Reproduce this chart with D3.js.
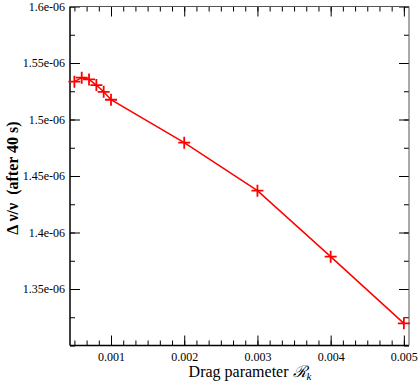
<!DOCTYPE html>
<html>
<head>
<meta charset="utf-8">
<script src="https://cdn.jsdelivr.net/npm/d3@7"></script>
<style>
  body { margin: 0; background: #fff; }
  svg { display: block; font-family: "Liberation Serif", "DejaVu Serif", serif; }
</style>
</head>
<body>
<svg id="chart" width="420" height="382"></svg>
<script>
// drag parameter values and frequency shift after 40 s
const dragParams = [0.0005, 0.0006, 0.0007, 0.0008, 0.0009, 0.001, 0.002, 0.003, 0.004, 0.005];
const freqShift = [1.5335e-6, 1.537e-6, 1.5355e-6, 1.5305e-6, 1.5245e-6, 1.5175e-6, 1.4795e-6, 1.437e-6, 1.3786e-6, 1.3196e-6];

const xTicks = [0.001, 0.002, 0.003, 0.004, 0.005];
const xTickLabels = ['0.001', '0.002', '0.003', '0.004', '0.005'];
const yTicks = [1.35e-6, 1.4e-6, 1.45e-6, 1.5e-6, 1.55e-6, 1.6e-6];
const yTickLabels = ['1.35e-06', '1.4e-06', '1.45e-06', '1.5e-06', '1.55e-06', '1.6e-06'];

const svg = d3.select('#chart');
const pLeft = 70, pRight = 409, pTop = 6.5, pBottom = 345.5;

const x = d3.scaleLinear().domain([0.00044, 0.00507]).range([pLeft, pRight]);
const y = d3.scaleLinear().domain([1.3e-6, 1.6e-6]).range([pBottom, pTop]);

// minor ticks: 5 between x majors, 1 between y majors
const xMinor = d3.range(-3, 31).map(i => 0.001 + i * 0.001 / 6).filter(v => v > 0.00044 && v < 0.00507);
const yMinor = d3.range(0, 13).map(i => 1.3e-6 + i * 0.025e-6);

const data = dragParams.map((d, i) => ({ x: d, y: freqShift[i] }));

const styleAxis = g => {
    g.select('.domain').remove();
    g.selectAll('line').attr('stroke', '#000');
    g.selectAll('text').attr('font-size', 12).attr('fill', '#000').attr('font-family', '"Liberation Serif", serif');
};

// bottom
svg.append('g').attr('transform', `translate(0,${pBottom})`)
    .call(d3.axisBottom(x).tickValues(xMinor).tickSize(-5).tickFormat(''))
    .call(styleAxis);
svg.append('g').attr('transform', `translate(0,${pBottom})`)
    .call(d3.axisBottom(x).tickValues(xTicks).tickSize(-10).tickFormat((d, i) => xTickLabels[i]))
    .call(styleAxis)
    .selectAll('text').attr('dy', '0.71em').attr('y', 7);

// top
svg.append('g').attr('transform', `translate(0,${pTop})`)
    .call(d3.axisTop(x).tickValues(xMinor).tickSize(-5).tickFormat(''))
    .call(styleAxis);
svg.append('g').attr('transform', `translate(0,${pTop})`)
    .call(d3.axisTop(x).tickValues(xTicks).tickSize(-10).tickFormat(''))
    .call(styleAxis);

// left
svg.append('g').attr('transform', `translate(${pLeft},0)`)
    .call(d3.axisLeft(y).tickValues(yMinor).tickSize(-5).tickFormat(''))
    .call(styleAxis);
svg.append('g').attr('transform', `translate(${pLeft},0)`)
    .call(d3.axisLeft(y).tickValues(yTicks).tickSize(-10).tickFormat((d, i) => yTickLabels[i]))
    .call(styleAxis)
    .selectAll('text').attr('x', -5);

// right
svg.append('g').attr('transform', `translate(${pRight},0)`)
    .call(d3.axisRight(y).tickValues(yMinor).tickSize(-5).tickFormat(''))
    .call(styleAxis);
svg.append('g').attr('transform', `translate(${pRight},0)`)
    .call(d3.axisRight(y).tickValues(yTicks).tickSize(-10).tickFormat(''))
    .call(styleAxis);

// frame
svg.append('line').attr('x1', pLeft).attr('x2', pLeft).attr('y1', pTop).attr('y2', pBottom).attr('stroke', '#000').attr('stroke-width', 1.5);
svg.append('line').attr('x1', pLeft).attr('x2', pRight).attr('y1', pBottom).attr('y2', pBottom).attr('stroke', '#000').attr('stroke-width', 1.5);
svg.append('line').attr('x1', pLeft).attr('x2', pRight).attr('y1', pTop).attr('y2', pTop).attr('stroke', '#555').attr('stroke-width', 1);
svg.append('line').attr('x1', pRight).attr('x2', pRight).attr('y1', pTop).attr('y2', pBottom).attr('stroke', '#555').attr('stroke-width', 1);

// line + markers
svg.append('path')
    .datum(data)
    .attr('fill', 'none')
    .attr('stroke', '#ff0000')
    .attr('stroke-width', 1.5)
    .attr('d', d3.line().x(d => x(d.x)).y(d => y(d.y)));

const m = 6;
svg.append('g').selectAll('path')
    .data(data)
    .join('path')
    .attr('fill', 'none')
    .attr('stroke', '#ff0000')
    .attr('stroke-width', 1.8)
    .attr('d', d => `M${x(d.x) - m},${y(d.y)}H${x(d.x) + m}M${x(d.x)},${y(d.y) - m}V${y(d.y) + m}`);

// axis titles
svg.append('text')
    .attr('transform', `translate(18,178) rotate(-90)`)
    .attr('text-anchor', 'middle')
    .attr('font-size', 16)
    .attr('font-weight', 'bold')
    .attr('xml:space', 'preserve')
    .style('white-space', 'pre')
    .text('Δ ν/ν  (after 40 s)');

const xTitle = svg.append('text')
    .attr('x', 250)
    .attr('y', 377)
    .attr('text-anchor', 'middle')
    .attr('font-size', 16);
xTitle.append('tspan').text('Drag parameter ');
xTitle.append('tspan').attr('font-family', '"DejaVu Serif", serif').attr('font-style', 'italic').text('ℛ');
xTitle.append('tspan').attr('font-style', 'italic').attr('font-size', 11).attr('dy', 3).text('k');
</script>
</body>
</html>
